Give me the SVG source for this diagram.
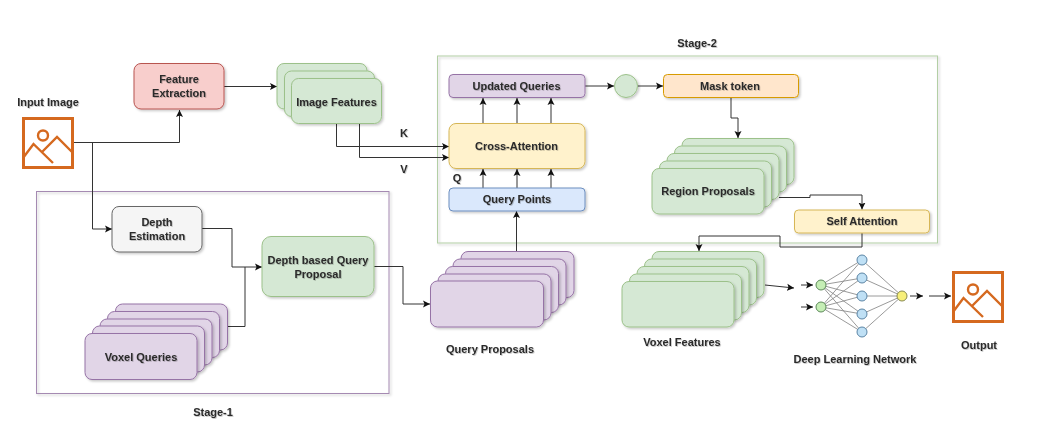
<svg xmlns="http://www.w3.org/2000/svg" width="1048" height="437" viewBox="0 0 1048 437">
<style>
text{font-family:"Liberation Sans",Arial,sans-serif;font-size:11px;font-weight:700;fill:#2b2b2b;text-anchor:middle;filter:url(#ts)}
.s{filter:url(#sh)}
.purple{fill:#e1d5e7;stroke:#9673a6}
.green{fill:#d5e8d4;stroke:#9cc18a}
.red{fill:#f8cecc;stroke:#b85450}
.yellow{fill:#fff2cc;stroke:#d6b656}
.orange{fill:#ffe6cc;stroke:#d79b00}
.blue{fill:#dae8fc;stroke:#6c8ebf}
.grey{fill:#f5f5f5;stroke:#666}
.frame{fill:none}
.f1{stroke:#a58ab2}
.f2{stroke:#b3cfa5}
.c{fill:none;stroke:#333;stroke-width:1;marker-end:url(#a)}
.n{fill:none;stroke:#333;stroke-width:1}
.w{stroke:#808080;stroke-width:.8;fill:none}
.icon{fill:none;stroke:#d5691f;stroke-width:3}
.icon2{fill:none;stroke:#d5691f;stroke-width:2.400;stroke-linejoin:miter}
</style>
<defs>
<marker id="a" markerUnits="userSpaceOnUse" markerWidth="9" markerHeight="8" refX="7" refY="4" orient="auto"><path d="M0 .5L7 4L0 7.500L1.500 4Z" fill="#111"/></marker>
<filter id="sh" x="-10%" y="-10%" width="125%" height="130%"><feDropShadow dx="1.500" dy="1.500" stdDeviation="1.200" flood-color="#000" flood-opacity=".22"/></filter>
<filter id="ts" x="-10%" y="-20%" width="125%" height="150%"><feDropShadow dx="0.800" dy="0.800" stdDeviation=".7" flood-color="#000" flood-opacity=".25"/></filter>
<g id="pic"><rect class="icon" x="1.500" y="1.500" width="49" height="49"/><circle class="icon2" cx="21" cy="18.500" r="5"/><path class="icon2" d="M1 41L11.500 27L31 46M20 35L35 20L51 36"/></g>
</defs>

<g id="stage-1"><rect class="frame f1 s" x="36.500" y="191.500" width="352.500" height="202"/><text x="213" y="416">Stage-1</text></g>
<g id="stage-2"><rect class="frame f2 s" x="437.500" y="56" width="500" height="187"/><text x="697" y="47">Stage-2</text></g>

<g id="connectors">
<path class="c" d="M73 142.500H179.500V110"/>
<path class="c" d="M92.500 142.500V229H112"/>
<path class="c" d="M224 86.500H277"/>
<path class="c" d="M336.500 123V146.500H449"/>
<path class="c" d="M359.500 123V157.500H449"/>
<path class="c" d="M202 228.500H232V267H262"/>
<path class="n" d="M228 326.500H245V267"/>
<path class="c" d="M374 266.500H403V304H430"/>
<path class="c" d="M516.500 251V211"/>
<path class="c" d="M483 188V169"/><path class="c" d="M517 188V169"/><path class="c" d="M551 188V169"/>
<path class="c" d="M483 123V98"/><path class="c" d="M517 123V98"/><path class="c" d="M551 123V98"/>
<path class="c" d="M585 86H614"/>
<path class="c" d="M638 86H663"/>
<path class="c" d="M731 97V118H738V138"/>
<path class="c" d="M779 197.500H810V195H862V209.500"/>
<path class="c" d="M862 233V247H780V236H699V251"/>
<path class="c" d="M765 285L794 288"/>
<path class="c" d="M801 285H813"/>
<path class="c" d="M801 307H813"/>
<path class="c" d="M910 296H923"/>
<path class="c" d="M929 296H951"/>
</g>

<g id="input-image"><use href="#pic" x="22" y="117"/><text x="48" y="106">Input Image</text></g>
<g id="feature-extraction"><rect class="red s" x="134" y="63.500" width="90" height="45.500" rx="7"/><text x="179" y="83">Feature</text><text x="179" y="97">Extraction</text></g>
<g id="image-features">
<rect class="green s" x="277" y="63.500" width="90" height="45.500" rx="7"/>
<rect class="green s" x="284.500" y="71" width="90" height="45.500" rx="7"/>
<rect class="green s" x="291.500" y="78.500" width="90" height="45" rx="7"/>
<text x="336.500" y="106">Image Features</text></g>
<g id="depth-estimation"><rect class="grey s" x="112" y="206.500" width="90" height="45.500" rx="7"/><text x="157" y="226">Depth</text><text x="157" y="240">Estimation</text></g>
<g id="depth-query"><rect class="green s" x="262" y="236.500" width="112" height="60" rx="9"/><text x="318" y="264">Depth based Query</text><text x="318" y="278">Proposal</text></g>
<g id="voxel-queries">
<rect class="purple s" x="115.500" y="304" width="112" height="46" rx="7"/>
<rect class="purple s" x="107.500" y="311.500" width="112" height="46" rx="7"/>
<rect class="purple s" x="100" y="319" width="112" height="46" rx="7"/>
<rect class="purple s" x="92.500" y="326" width="112" height="46" rx="7"/>
<rect class="purple s" x="85" y="333.500" width="112" height="46" rx="7"/>
<text x="141" y="361">Voxel Queries</text></g>
<g id="query-proposals">
<rect class="purple s" x="461" y="251.500" width="113" height="46" rx="7"/>
<rect class="purple s" x="453" y="259" width="113" height="46" rx="7"/>
<rect class="purple s" x="445.500" y="266.500" width="113" height="46" rx="7"/>
<rect class="purple s" x="438" y="274" width="113" height="46" rx="7"/>
<rect class="purple s" x="430.500" y="281" width="113" height="46" rx="7"/>
<text x="490" y="353">Query Proposals</text></g>
<g id="updated-queries"><rect class="purple s" x="449" y="74.500" width="136" height="23" rx="4"/><text x="516.500" y="90">Updated Queries</text></g>
<g id="cross-attention"><rect class="yellow s" x="449" y="123.500" width="136" height="45" rx="7"/><text x="516.500" y="150">Cross-Attention</text></g>
<g id="query-points"><rect class="blue s" x="449" y="188" width="136" height="23" rx="4"/><text x="517" y="203">Query Points</text></g>
<g id="label-k"><text x="404" y="137">K</text></g>
<g id="label-v"><text x="404" y="173">V</text></g>
<g id="label-q"><text x="457" y="182">Q</text></g>
<g id="token-circle"><circle class="green s" cx="626" cy="86" r="11.500"/></g>
<g id="mask-token"><rect class="orange s" x="663.500" y="74.500" width="135" height="23" rx="4"/><text x="730" y="90">Mask token</text></g>
<g id="region-proposals">
<rect class="green s" x="682" y="138.500" width="112" height="46" rx="7"/>
<rect class="green s" x="674.500" y="146" width="112" height="46" rx="7"/>
<rect class="green s" x="667" y="153.500" width="112" height="46" rx="7"/>
<rect class="green s" x="659.500" y="161" width="112" height="46" rx="7"/>
<rect class="green s" x="652" y="168.500" width="112" height="45.500" rx="7"/>
<text x="708" y="195">Region Proposals</text></g>
<g id="self-attention"><rect class="yellow s" x="794.500" y="210" width="135" height="23" rx="4"/><text x="862" y="225">Self Attention</text></g>
<g id="voxel-features">
<rect class="green s" x="652" y="251.500" width="112" height="46" rx="7"/>
<rect class="green s" x="644.500" y="259" width="112" height="46" rx="7"/>
<rect class="green s" x="637" y="266.500" width="112" height="46" rx="7"/>
<rect class="green s" x="629.500" y="274" width="112" height="46" rx="7"/>
<rect class="green s" x="622" y="281.500" width="112" height="45.500" rx="7"/>
<text x="682" y="346">Voxel Features</text></g>
<g id="deep-learning-network">
<path class="w" d="M821 285L862 260M821 285L862 278M821 285L862 296M821 285L862 314M821 285L862 332M821 307L862 260M821 307L862 278M821 307L862 296M821 307L862 314M821 307L862 332M862 260L902 296M862 278L902 296M862 296L902 296M862 314L902 296M862 332L902 296"/>
<circle cx="821" cy="285" r="5" fill="#c5eeb5" stroke="#5d8a5a"/><circle cx="821" cy="307" r="5" fill="#c5eeb5" stroke="#5d8a5a"/>
<circle cx="862" cy="260" r="5" fill="#bfe0f5" stroke="#5b85a5"/><circle cx="862" cy="278" r="5" fill="#bfe0f5" stroke="#5b85a5"/><circle cx="862" cy="296" r="5" fill="#bfe0f5" stroke="#5b85a5"/><circle cx="862" cy="314" r="5" fill="#bfe0f5" stroke="#5b85a5"/><circle cx="862" cy="332" r="5" fill="#bfe0f5" stroke="#5b85a5"/>
<circle cx="902" cy="296" r="5" fill="#f7ef7a" stroke="#888a50"/>
<text x="855" y="363">Deep Learning Network</text></g>
<g id="output"><use href="#pic" x="952" y="271"/><text x="979" y="349">Output</text></g>
</svg>
